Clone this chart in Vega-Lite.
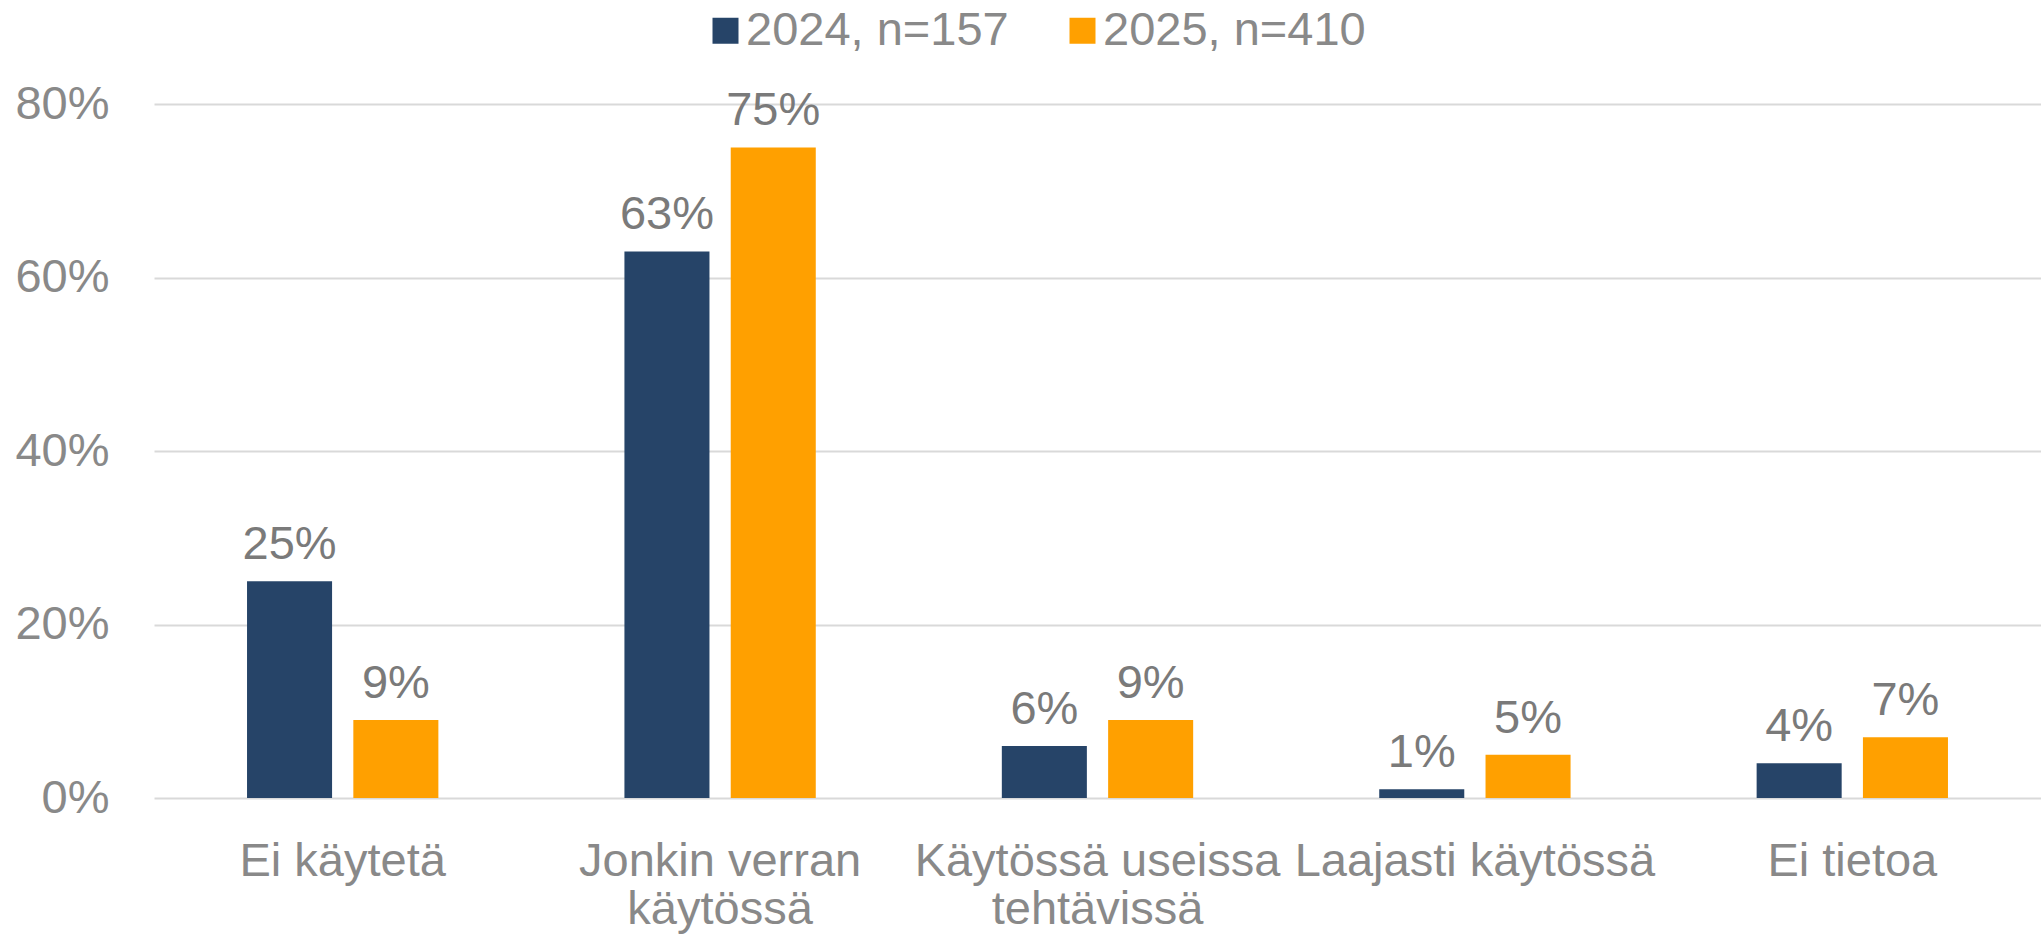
{
  "$schema": "https://vega.github.io/schema/vega-lite/v6.json",
  "autosize": {"type": "none"},
  "width": 1887,
  "height": 694,
  "padding": {"left": 154, "top": 104, "right": 0, "bottom": 138},
  "background": "white",
  "config": {
    "font": "Liberation Sans",
    "view": {"stroke": null},
    "axis": {"labelFont": "Liberation Sans", "labelColor": "#898989", "labelFontSize": 47}
  },
  "data": {
    "values": [
      {"cat": "Ei käytetä", "year": "2024, n=157", "value": 0.25},
      {"cat": "Ei käytetä", "year": "2025, n=410", "value": 0.09},
      {"cat": "Jonkin verran käytössä", "year": "2024, n=157", "value": 0.63},
      {"cat": "Jonkin verran käytössä", "year": "2025, n=410", "value": 0.75},
      {"cat": "Käytössä useissa tehtävissä", "year": "2024, n=157", "value": 0.06},
      {"cat": "Käytössä useissa tehtävissä", "year": "2025, n=410", "value": 0.09},
      {"cat": "Laajasti käytössä", "year": "2024, n=157", "value": 0.01},
      {"cat": "Laajasti käytössä", "year": "2025, n=410", "value": 0.05},
      {"cat": "Ei tietoa", "year": "2024, n=157", "value": 0.04},
      {"cat": "Ei tietoa", "year": "2025, n=410", "value": 0.07}
    ]
  },
  "encoding": {
    "x": {
      "field": "cat", "type": "nominal", "sort": null,
      "scale": {"paddingInner": 0.493, "paddingOuter": 0.2465},
      "axis": {
        "title": null, "domain": false, "ticks": false, "labelAngle": 0,
        "labelPadding": 40, "labelLineHeight": 48, "labelLimit": 1000,
        "labelExpr": "datum.value == 'Jonkin verran käytössä' ? ['Jonkin verran', 'käytössä'] : datum.value == 'Käytössä useissa tehtävissä' ? ['Käytössä useissa', 'tehtävissä'] : datum.value"
      }
    },
    "xOffset": {"field": "year", "type": "nominal", "scale": {"paddingInner": 0.2, "paddingOuter": 0}},
    "y": {
      "field": "value", "type": "quantitative",
      "scale": {"domain": [0, 0.8], "nice": false},
      "axis": {
        "title": null, "domain": false, "ticks": false, "values": [0, 0.2, 0.4, 0.6, 0.8],
        "format": ".0%", "labelPadding": 45, "grid": true, "gridColor": "#d9d9d9", "gridWidth": 2
      }
    }
  },
  "layer": [
    {
      "mark": {"type": "bar"},
      "encoding": {
        "color": {
          "field": "year", "type": "nominal",
          "scale": {"domain": ["2024, n=157", "2025, n=410"], "range": ["#264468", "#FFA000"]},
          "legend": {
            "title": null, "orient": "none", "direction": "horizontal",
            "legendX": 548, "legendY": -97,
            "symbolType": "square", "symbolSize": 676, "symbolStrokeWidth": 0,
            "labelFontSize": 47, "labelColor": "#898989", "labelFont": "Liberation Sans",
            "labelOffset": -3, "columnPadding": 50, "labelLimit": 400
          }
        }
      }
    },
    {
      "mark": {"type": "text", "baseline": "alphabetic", "dy": -22, "fontSize": 47, "color": "#7a7a7a", "font": "Liberation Sans"},
      "encoding": {
        "text": {"field": "value", "type": "quantitative", "format": ".0%"}
      }
    }
  ]
}
